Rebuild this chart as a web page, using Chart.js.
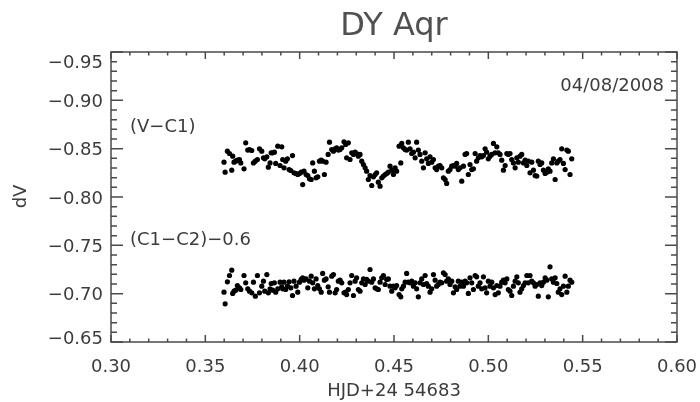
<!DOCTYPE html>
<html>
<head>
<meta charset="utf-8">
<script src="https://cdn.jsdelivr.net/npm/chart.js@4"></script>
<style>
  html, body { margin: 0; padding: 0; background: #fff; }
  canvas { display: block; }
</style>
</head>
<body>
<canvas id="chart" width="700" height="402"></canvas>
<script>
// observation times (HJD - 2454683), shared by both light curves
const hjd = [
  0.3599, 0.3605, 0.3617, 0.3628, 0.3640, 0.3645, 0.3652, 0.3661, 0.3670, 0.3681,
  0.3688, 0.3705, 0.3714, 0.3725, 0.3734, 0.3746, 0.3755, 0.3765, 0.3776, 0.3787,
  0.3799, 0.3808, 0.3815, 0.3826, 0.3834, 0.3843, 0.3849, 0.3857, 0.3866, 0.3873,
  0.3884, 0.3896, 0.3905, 0.3910, 0.3917, 0.3926, 0.3935, 0.3944, 0.3953, 0.3962,
  0.3970, 0.3981, 0.3990, 0.3999, 0.4008, 0.4016, 0.4023, 0.4034, 0.4043, 0.4052,
  0.4061, 0.4069, 0.4078, 0.4087, 0.4096, 0.4105, 0.4114, 0.4122, 0.4131, 0.4140,
  0.4151, 0.4158,
  0.4170, 0.4179, 0.4188, 0.4196, 0.4205, 0.4214, 0.4223, 0.4235, 0.4244, 0.4249,
  0.4258, 0.4267, 0.4276, 0.4285, 0.4294, 0.4302, 0.4311, 0.4320, 0.4329, 0.4338,
  0.4347, 0.4355, 0.4364, 0.4373, 0.4382, 0.4391, 0.4400, 0.4408, 0.4417, 0.4426,
  0.4435, 0.4444, 0.4453, 0.4461, 0.4470, 0.4479, 0.4488, 0.4497, 0.4506, 0.4514,
  0.4527, 0.4536, 0.4541, 0.4550, 0.4559, 0.4567, 0.4576, 0.4585, 0.4594, 0.4603,
  0.4612, 0.4620, 0.4629, 0.4638, 0.4647, 0.4656, 0.4665, 0.4673, 0.4682, 0.4691,
  0.4700, 0.4709, 0.4718, 0.4726, 0.4735, 0.4744, 0.4753, 0.4762, 0.4771, 0.4779,
  0.4788, 0.4797, 0.4806, 0.4815, 0.4824, 0.4832, 0.4841, 0.4850, 0.4859, 0.4868,
  0.4877, 0.4885, 0.4894, 0.4903, 0.4912, 0.4921, 0.4930, 0.4938, 0.4947, 0.4956,
  0.4965, 0.4974, 0.4983, 0.4991, 0.5000, 0.5009, 0.5018, 0.5027, 0.5036, 0.5045,
  0.5053, 0.5062, 0.5071, 0.5080, 0.5089, 0.5098, 0.5106, 0.5115, 0.5124, 0.5133,
  0.5142, 0.5151, 0.5159, 0.5168, 0.5177, 0.5186, 0.5195, 0.5204, 0.5212, 0.5221,
  0.5230, 0.5239, 0.5248, 0.5257, 0.5265, 0.5274, 0.5283, 0.5292, 0.5301, 0.5310,
  0.5318, 0.5327, 0.5336, 0.5345, 0.5354, 0.5363, 0.5371, 0.5380, 0.5389, 0.5398,
  0.5407, 0.5416, 0.5424, 0.5433, 0.5442
];

// (V-C1)
const vMinusC1 = [
  -0.8360, -0.8257, -0.8474, -0.8450, -0.8278, -0.8422, -0.8360, -0.8371, -0.8381, -0.8388,
  -0.8353, -0.8291, -0.8560, -0.8485, -0.8491, -0.8481, -0.8353, -0.8371, -0.8388, -0.8498,
  -0.8474, -0.8405, -0.8395, -0.8416, -0.8309, -0.8353, -0.8457, -0.8457, -0.8464, -0.8347,
  -0.8526, -0.8326, -0.8519, -0.8388, -0.8302, -0.8371, -0.8395, -0.8284, -0.8274, -0.8429,
  -0.8250, -0.8243, -0.8233, -0.8243, -0.8257, -0.8129, -0.8267, -0.8233, -0.8222, -0.8188,
  -0.8181, -0.8353, -0.8267, -0.8198, -0.8209, -0.8371, -0.8381, -0.8371, -0.8233, -0.8360,
  -0.8440, -0.8567,
  -0.8491, -0.8474, -0.8498, -0.8509, -0.8485, -0.8491, -0.8509, -0.8571, -0.8543, -0.8405,
  -0.8560, -0.8388, -0.8457, -0.8440, -0.8464, -0.8450, -0.8422, -0.8440, -0.8371, -0.8336,
  -0.8302, -0.8267, -0.8181, -0.8222, -0.8119, -0.8209, -0.8233, -0.8250, -0.8153, -0.8112,
  -0.8198, -0.8216, -0.8233, -0.8243, -0.8257, -0.8319, -0.8278, -0.8233, -0.8302, -0.8267,
  -0.8526, -0.8353, -0.8554, -0.8509, -0.8491, -0.8485, -0.8567, -0.8498, -0.8450, -0.8464,
  -0.8405, -0.8567, -0.8485, -0.8440, -0.8371, -0.8302, -0.8457, -0.8395, -0.8347, -0.8416,
  -0.8360, -0.8388, -0.8302, -0.8284, -0.8319, -0.8326, -0.8302, -0.8198, -0.8181, -0.8140,
  -0.8267, -0.8284, -0.8319, -0.8326, -0.8319, -0.8347, -0.8284, -0.8302, -0.8164, -0.8319,
  -0.8440, -0.8450, -0.8233, -0.8336, -0.8284, -0.8291, -0.8450, -0.8371, -0.8405, -0.8429,
  -0.8416, -0.8429, -0.8498, -0.8464, -0.8395, -0.8422, -0.8440, -0.8554, -0.8457, -0.8519,
  -0.8457, -0.8440, -0.8381, -0.8278, -0.8326, -0.8450, -0.8440, -0.8450, -0.8388, -0.8353,
  -0.8302, -0.8405, -0.8360, -0.8422, -0.8440, -0.8353, -0.8381, -0.8326, -0.8371, -0.8250,
  -0.8360, -0.8278, -0.8222, -0.8216, -0.8371, -0.8336, -0.8353, -0.8278, -0.8243, -0.8257,
  -0.8291, -0.8267, -0.8353, -0.8395, -0.8181, -0.8353, -0.8371, -0.8388, -0.8498, -0.8347,
  -0.8284, -0.8485, -0.8474, -0.8233, -0.8395
];

// (C1-C2) - 0.6
const c1MinusC2 = [
  -0.7015, -0.6895, -0.7122, -0.7188, -0.7243, -0.7002, -0.7026, -0.7036, -0.7084, -0.7060,
  -0.7043, -0.7188, -0.7112, -0.7050, -0.7026, -0.7009, -0.7119, -0.6974, -0.7188, -0.7009,
  -0.7078, -0.7129, -0.7026, -0.7198, -0.7009, -0.7050, -0.7105, -0.7036, -0.7112, -0.7015,
  -0.7050, -0.7119, -0.7071, -0.7050, -0.7119, -0.7043, -0.7078, -0.7122, -0.7060, -0.6981,
  -0.7129, -0.7078, -0.7015, -0.7119, -0.7147, -0.7164, -0.7140, -0.7153, -0.7060, -0.7129,
  -0.7181, -0.7112, -0.7050, -0.7153, -0.7084, -0.7050, -0.7015, -0.7209, -0.7140, -0.7153,
  -0.7071, -0.7015,
  -0.7181, -0.7198, -0.7009, -0.7043, -0.7129, -0.7140, -0.7112, -0.7009, -0.7015, -0.6991,
  -0.7043, -0.7112, -0.7188, -0.6981, -0.7129, -0.7164, -0.7043, -0.7026, -0.7112, -0.7153,
  -0.7095, -0.7147, -0.7129, -0.7250, -0.7119, -0.7153, -0.7060, -0.7050, -0.7043, -0.7119,
  -0.7164, -0.7188, -0.7095, -0.7147, -0.7153, -0.7078, -0.7026, -0.7078, -0.7060, -0.7084,
  -0.6991, -0.6967, -0.7050, -0.7078, -0.7119, -0.7209, -0.7119, -0.7112, -0.7129, -0.7078,
  -0.7112, -0.7050, -0.6967, -0.7112, -0.7153, -0.7095, -0.7188, -0.7105, -0.7078, -0.7015,
  -0.7050, -0.7198, -0.7140, -0.7078, -0.7095, -0.7119, -0.7112, -0.7216, -0.7198, -0.7129,
  -0.7153, -0.7095, -0.7129, -0.7009, -0.7071, -0.7043, -0.7129, -0.7078, -0.7119, -0.7078,
  -0.7129, -0.7112, -0.7002, -0.7164, -0.7112, -0.7043, -0.7188, -0.7174, -0.7078, -0.7112,
  -0.7050, -0.7174, -0.7060, -0.7009, -0.7129, -0.7078, -0.7119, -0.7060, -0.6991, -0.7084,
  -0.7009, -0.7078, -0.7119, -0.7140, -0.7112, -0.7153, -0.7043, -0.7026, -0.6981, -0.7078,
  -0.7129, -0.7174, -0.7112, -0.7015, -0.7050, -0.7084, -0.7112, -0.7188, -0.7112, -0.7188,
  -0.7129, -0.7112, -0.7078, -0.7095, -0.6974, -0.7112, -0.7084, -0.7119, -0.7164, -0.7140,
  -0.6967, -0.7278, -0.7153, -0.7119, -0.7164, -0.7105, -0.7015, -0.7050, -0.6991, -0.7078,
  -0.7181, -0.7015, -0.7078, -0.7140, -0.7119
];

const xTicks = [0.30, 0.35, 0.40, 0.45, 0.50, 0.55, 0.60];
const xTickLabels = ['0.30', '0.35', '0.40', '0.45', '0.50', '0.55', '0.60'];
const yTicks = [-0.95, -0.90, -0.85, -0.80, -0.75, -0.70, -0.65];
const yTickLabels = ['\u22120.95', '\u22120.90', '\u22120.85', '\u22120.80', '\u22120.75', '\u22120.70', '\u22120.65'];

const FONT = '"DejaVu Sans", sans-serif';
// lighter ink so the text reads closer to the thin IDL vector font
const INK = '#3c3c3c';
const AXIS = '#4a4a4a';

// box with inward ticks on all four sides, labels and titles (IDL look)
const idlFrame = {
  id: 'idlFrame',
  afterDraw(chart) {
    const { ctx, chartArea: a, scales: { x, y } } = chart;
    ctx.save();
    ctx.strokeStyle = AXIS;
    ctx.lineWidth = 1.5;
    ctx.strokeRect(a.left, a.top, a.right - a.left, a.bottom - a.top);

    ctx.beginPath();
    // x ticks, bottom + top
    for (let i = 0; i < xTicks.length; i++) {
      const px = x.getPixelForValue(xTicks[i]);
      ctx.moveTo(px, a.bottom); ctx.lineTo(px, a.bottom - 7);
      ctx.moveTo(px, a.top); ctx.lineTo(px, a.top + 7);
      if (i < xTicks.length - 1) {
        for (let k = 1; k < 5; k++) {
          const mx = x.getPixelForValue(xTicks[i] + (xTicks[i + 1] - xTicks[i]) * k / 5);
          ctx.moveTo(mx, a.bottom); ctx.lineTo(mx, a.bottom - 3.5);
          ctx.moveTo(mx, a.top); ctx.lineTo(mx, a.top + 3.5);
        }
      }
    }
    // y ticks, left + right
    for (let i = 0; i < yTicks.length; i++) {
      const py = y.getPixelForValue(yTicks[i]);
      ctx.moveTo(a.left, py); ctx.lineTo(a.left + 12, py);
      ctx.moveTo(a.right, py); ctx.lineTo(a.right - 12, py);
      if (i < yTicks.length - 1) {
        for (let k = 1; k < 5; k++) {
          const my = y.getPixelForValue(yTicks[i] + (yTicks[i + 1] - yTicks[i]) * k / 5);
          ctx.moveTo(a.left, my); ctx.lineTo(a.left + 6, my);
          ctx.moveTo(a.right, my); ctx.lineTo(a.right - 6, my);
        }
      }
    }
    ctx.stroke();

    ctx.fillStyle = INK;
    ctx.font = '18px ' + FONT;
    ctx.textBaseline = 'alphabetic';

    // y tick labels (end labels kept inside the box like IDL does)
    ctx.textAlign = 'right';
    yTicks.forEach((v, i) => {
      let cy = y.getPixelForValue(v);
      cy = Math.min(Math.max(cy, a.top + 9), a.bottom - 5);
      ctx.fillText(yTickLabels[i], a.left - 8, cy + 6.5);
    });

    // x tick labels
    ctx.textAlign = 'center';
    xTicks.forEach((v, i) => {
      ctx.fillText(xTickLabels[i], x.getPixelForValue(v), a.bottom + 30);
    });

    // axis titles
    ctx.fillText('HJD+24 54683', (a.left + a.right) / 2, a.bottom + 54);
    ctx.save();
    ctx.translate(26, 196.5);
    ctx.rotate(-Math.PI / 2);
    ctx.fillText('dV', 0, 0);
    ctx.restore();

    // annotations
    ctx.textAlign = 'left';
    ctx.fillText('(V\u2212C1)', a.left + 19, 131.5);
    ctx.fillText('(C1\u2212C2)\u22120.6', a.left + 19, 244.5);
    ctx.textAlign = 'right';
    ctx.fillText('04/08/2008', a.right - 13, 90.5);

    // title
    ctx.font = '32px ' + FONT;
    ctx.fillStyle = '#505050';
    ctx.textAlign = 'center';
    ctx.fillText('DY Aqr', (a.left + a.right) / 2, 35);
    ctx.restore();
  }
};

const points = (ys) => hjd.map((t, i) => ({ x: t, y: ys[i] }));

new Chart(document.getElementById('chart'), {
  type: 'scatter',
  data: {
    datasets: [
      {
        label: '(V\u2212C1)',
        data: points(vMinusC1),
        backgroundColor: '#000',
        borderWidth: 0,
        pointRadius: 2.6
      },
      {
        label: '(C1\u2212C2)\u22120.6',
        data: points(c1MinusC2),
        backgroundColor: '#000',
        borderWidth: 0,
        pointRadius: 2.6
      }
    ]
  },
  options: {
    responsive: false,
    animation: false,
    devicePixelRatio: 1,
    layout: { padding: { top: 52, right: 23, bottom: 0, left: 0 } },
    plugins: {
      legend: { display: false },
      tooltip: { enabled: false },
      title: { display: false }
    },
    scales: {
      x: {
        type: 'linear',
        min: 0.30,
        max: 0.60,
        ticks: { display: false, stepSize: 0.05 },
        grid: { display: false },
        border: { display: false },
        afterFit(scale) { scale.height = 60; }
      },
      y: {
        type: 'linear',
        min: -0.95,
        max: -0.65,
        reverse: true,
        ticks: { display: false, stepSize: 0.05 },
        grid: { display: false },
        border: { display: false },
        afterFit(scale) { scale.width = 111; }
      }
    }
  },
  plugins: [idlFrame]
});
</script>
</body>
</html>
